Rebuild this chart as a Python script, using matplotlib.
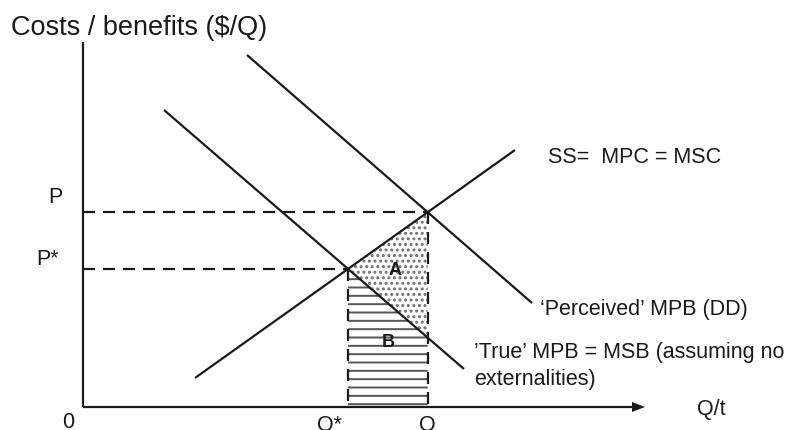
import numpy as np
import matplotlib
matplotlib.use("Agg")
import matplotlib.pyplot as plt

plt.rcParams['font.family'] = ['Liberation Sans', 'DejaVu Sans']
plt.rcParams['hatch.linewidth'] = 1.4

# ---- data (diagram coordinates: x = quantity, y = price, screen-like, y grows downward) ----
origin = (83, 407)
y_axis_top = 42
x_axis_end = 645

supply_x = [195, 515]
supply_y = [378, 150]
perceived_x = [247, 532]
perceived_y = [55, 303]
true_x = [164, 464]
true_y = [110, 369]

title = "Costs / benefits ($/Q)"
supply_label = "SS=  MPC = MSC"
perceived_label = "\u2018Perceived\u2019 MPB (DD)"
true_label = ["\u2019True\u2019 MPB = MSB (assuming no", "externalities)"]
price_labels = ["P", "P*"]
qty_labels = ["0", "Q*", "Q", "Q/t"]
area_labels = ["A", "B"]


def line_fn(xs, ys):
    m = (ys[1] - ys[0]) / (xs[1] - xs[0])
    return lambda x: ys[0] + m * (np.asarray(x) - xs[0]), m


def intersect(xa, ya, xb, yb):
    fa, ma = line_fn(xa, ya)
    fb, mb = line_fn(xb, yb)
    x = (yb[0] - mb * xb[0] - ya[0] + ma * xa[0]) / (ma - mb)
    return x, float(fa(x))


f_true, _ = line_fn(true_x, true_y)
q, p = intersect(supply_x, supply_y, perceived_x, perceived_y)
qs, ps = intersect(supply_x, supply_y, true_x, true_y)

fig = plt.figure(figsize=(8.02, 4.30), dpi=100)
ax = fig.add_axes([0, 0, 1, 1])
ax.set_xlim(0, 802)
ax.set_ylim(430, 0)
ax.axis('off')

col = '#1a1a1a'
lw = 1.6

# area A (dotted)
ax.fill([qs, q, q], [ps, p, float(f_true(q))], facecolor='white',
        edgecolor='#707070', hatch='...', linewidth=0)
# area B (horizontal lines)
xb = np.linspace(qs, q, 50)
ax.fill(np.concatenate([xb, [q, qs]]),
        np.concatenate([f_true(xb), [origin[1], origin[1]]]),
        facecolor='white', edgecolor='#555555', hatch='--', linewidth=0)

# axes
ax.plot([origin[0], origin[0]], [origin[1], y_axis_top], color=col, lw=lw,
        solid_capstyle='butt')
ax.plot([origin[0], x_axis_end - 12], [origin[1], origin[1]], color=col, lw=lw,
        solid_capstyle='butt')
ax.fill([x_axis_end - 13, x_axis_end, x_axis_end - 13],
        [origin[1] - 5, origin[1], origin[1] + 5], color=col, lw=0)

# curves
for xs, ys in [(supply_x, supply_y), (perceived_x, perceived_y), (true_x, true_y)]:
    ax.plot(xs, ys, color=col, lw=lw, solid_capstyle='butt')

# dashed guides
dash = (5.4, 3.6)
ax.plot([origin[0], q], [p, p], color=col, lw=lw, dashes=dash)
ax.plot([origin[0], qs], [ps, ps], color=col, lw=lw, dashes=dash)
ax.plot([qs, qs], [ps, origin[1]], color=col, lw=lw, dashes=dash)
ax.plot([q, q], [p, origin[1]], color=col, lw=lw, dashes=dash)

# text
fs = 15.5
ax.text(11, 35, title, fontsize=19.5, color=col, va='baseline', ha='left')
ax.text(548, 163, supply_label, fontsize=fs, color=col, va='baseline')
ax.text(540, 315, perceived_label, fontsize=fs, color=col, va='baseline')
ax.text(474, 358, true_label[0], fontsize=fs, color=col, va='baseline')
ax.text(474, 385, true_label[1], fontsize=fs, color=col, va='baseline')
ax.text(48, 203, price_labels[0], fontsize=fs, color=col, va='baseline')
ax.text(36, 265, price_labels[1], fontsize=fs, color=col, va='baseline')
ax.text(62, 428, qty_labels[0], fontsize=fs, color=col, va='baseline')
ax.text(317, 431, qty_labels[1], fontsize=fs, color=col, va='baseline')
ax.text(419, 431, qty_labels[2], fontsize=fs, color=col, va='baseline')
ax.text(697, 415, qty_labels[3], fontsize=fs, color=col, va='baseline')
ax.text(395, 275, area_labels[0], fontsize=13, fontweight='bold', color=col,
        va='baseline', ha='center')
ax.text(388, 347, area_labels[1], fontsize=13, fontweight='bold', color=col,
        va='baseline', ha='center')

fig.savefig('out.png', dpi=100)
